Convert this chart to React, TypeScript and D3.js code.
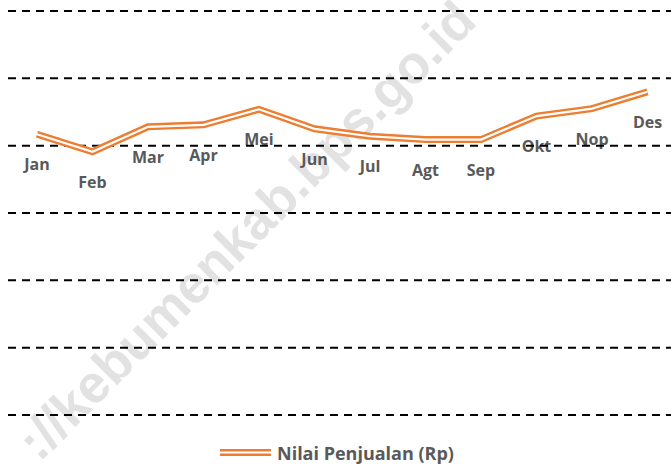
import React from "react";
import * as d3 from "d3";

const months = ["Jan", "Feb", "Mar", "Apr", "Mei", "Jun", "Jul", "Agt", "Sep", "Okt", "Nop", "Des"];
const salesValues = [41.7, 39.1, 42.8, 43.1, 45.4, 42.5, 41.4, 40.9, 40.9, 44.4, 45.5, 48.0];
const gridTicks = [0, 10, 20, 30, 40, 50, 60];
const seriesName = "Nilai Penjualan (Rp)";
const watermark = "://kebumenkab.bps.go.id";

const W = 671;
const H = 469;
const ORANGE = "#ED7D31";
const LABEL = "#595959";

export default function App() {
  const x = d3.scaleBand<string>().domain(months).range([9.25, 675.25]);
  const y = d3.scaleLinear().domain([0, 60]).range([415, 11]);
  const pts: [number, number][] = months.map((m, i) => [x(m)! + x.bandwidth() / 2, y(salesValues[i])]);
  const line = d3.line<[number, number]>().x((d) => d[0]).y((d) => d[1]);
  const path = line(pts) || "";
  const font = "'Open Sans', 'DejaVu Sans', sans-serif";

  return (
    <svg
      width={W}
      height={H}
      style={{ position: "absolute", left: 0, top: 0, background: "#fff" }}
      viewBox={`0 0 ${W} ${H}`}
    >
      <rect width={W} height={H} fill="#fff" />
      <text
        x={246}
        y={230}
        transform="rotate(-45 246 230)"
        textAnchor="middle"
        dominantBaseline="central"
        fontFamily="'Liberation Sans', Arial, sans-serif"
        fontWeight="bold"
        fontSize={53}
        fill="#e2e2e2"
      >
        {watermark}
      </text>
      {months.map((m, i) => (
        <text
          key={m}
          x={pts[i][0]}
          y={pts[i][1] + 30}
          textAnchor="middle"
          dominantBaseline="central"
          fontFamily={font}
          fontWeight="bold"
          fontSize={16}
          fill={LABEL}
        >
          {m}
        </text>
      ))}
      {gridTicks.map((t) => (
        <line
          key={t}
          x1={8}
          x2={W}
          y1={y(t)}
          y2={y(t)}
          stroke="#000"
          strokeWidth={2}
          strokeDasharray="8 6"
        />
      ))}
      <path d={path} fill="none" stroke={ORANGE} strokeWidth={7} strokeLinejoin="miter" />
      <path d={path} fill="none" stroke="#fff" strokeWidth={2.2} strokeLinejoin="miter" />
      <g>
        <line x1={220} x2={271} y1={452.5} y2={452.5} stroke={ORANGE} strokeWidth={7} />
        <line x1={220} x2={271} y1={452.5} y2={452.5} stroke="#fff" strokeWidth={2.2} />
        <text
          x={277}
          y={453}
          dominantBaseline="central"
          fontFamily={font}
          fontWeight="bold"
          fontSize={18}
          fill={LABEL}
        >
          {seriesName}
        </text>
      </g>
    </svg>
  );
}
